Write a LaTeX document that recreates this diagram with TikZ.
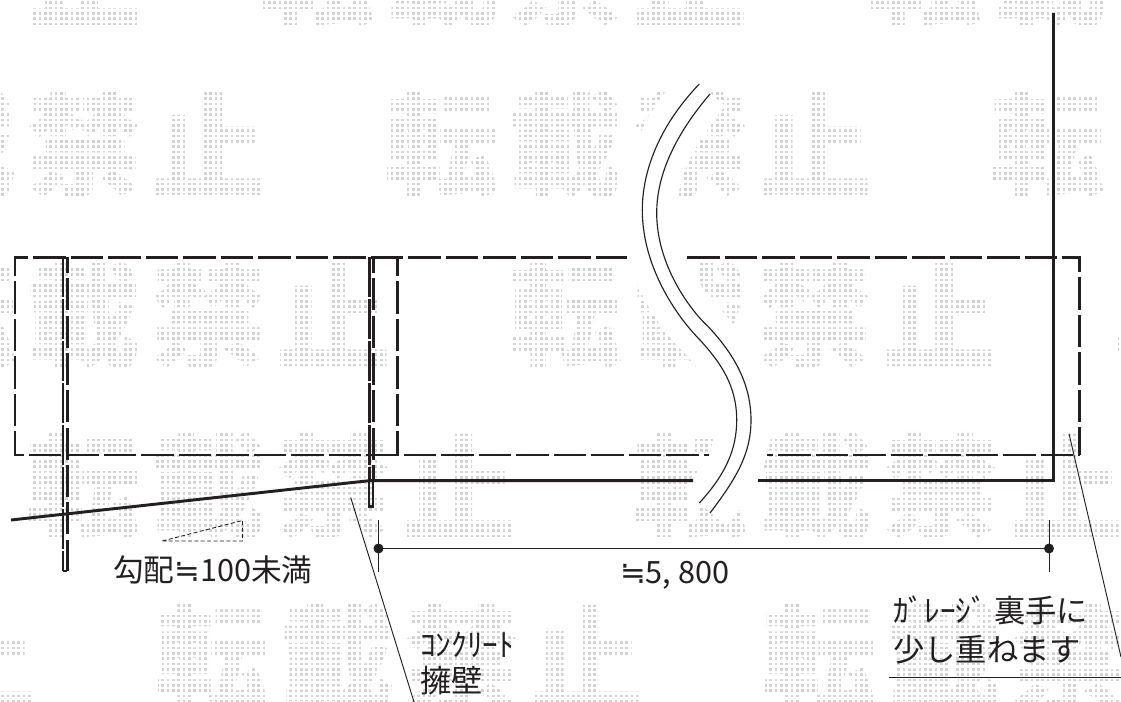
\documentclass[tikz,border=0pt]{standalone}
\usepackage{fontspec}
\setmainfont{Noto Sans CJK JP}
\newfontfamily\jp{Noto Sans CJK JP}
\newfontfamily\sym{DejaVu Sans}
\definecolor{ink}{HTML}{231F20}
\definecolor{wmgray}{HTML}{D2D2D2}
\tikzset{
  wm/.style={inner sep=0pt,outer sep=0pt,text=wmgray,font=\jp\bfseries\fontsize{86pt}{86pt}\selectfont},
  heavy/.style={draw=ink,line width=2.2pt,line join=miter},
  longdash/.style={draw=ink,line width=1.9pt,dash pattern=on 24.375pt off 3.75pt},
  thin line/.style={draw=ink,line width=.7pt},
  wave/.style={draw=ink,line width=.85pt},
  label/.style={inner sep=0pt,outer sep=0pt,anchor=west,text=ink},
  lab30/.style={label,font=\jp\fontsize{23pt}{23pt}\selectfont},
  lab32/.style={label,font=\jp\fontsize{23.5pt}{23.5pt}\selectfont},
}
\begin{document}
\begin{tikzpicture}[x=0.75pt,y=-0.75pt]
\useasboundingbox (0,0) rectangle (1121,702);
\fill[white] (0,0) rectangle (1121,702);
\clip (0,0) rectangle (1121,702);
% watermark
\foreach \gx/\gy/\gc [count=\i] in {
 33/-26/止,266/-26/転,391/-26/載,515/-26/禁,639/-26/止,873/-26/転,998/-26/載,
 -92/144/載,33/144/禁,157/144/止,390/144/転,514/144/載,639/144/禁,763/144/止,996/144/転,
 32/315/載,-92/315/転,157/315/禁,282/315/止,514/315/転,639/315/載,763/315/禁,888/315/止,1121/315/転,
 32/486/転,157/486/載,282/486/禁,407/486/止,639/486/転,764/486/載,889/486/禁,1014/486/止,
 -73/657/止,161/657/転,286/657/載,410/657/禁,534/657/止,768/657/転,893/657/載,1017/657/禁}
  \node[wm] (w\i) at (\gx+52,\gy) {\gc};
\foreach \k in {0,...,211} \draw[white,line width=1.9pt] ({\k*5.3333},0) -- ({\k*5.3333},702);
\foreach \k in {0,...,132} \draw[white,line width=1.9pt] (0,{\k*5.3333}) -- (1121,{\k*5.3333});
% white band round the break
\draw[white,line width=42pt]
  (704,88) .. controls (668,130) and (649,172) .. (649,211)
  .. controls (649,268) and (685,315) .. (704,333)
  .. controls (725,356) and (744,382) .. (744,420)
  .. controls (744,452) and (730,478) .. (705,508);
% dashed rectangle
\draw[longdash] (687,257.3) -- (1079.5,257.3) -- (1079.5,455);
\draw[longdash,dash phase=19.65pt] (767,455) -- (1079.5,455);
\draw[longdash,dash phase=20.6pt] (709,455) -- (15,455) -- (15,257.3) -- (627,257.3);
\draw[longdash,dash phase=10pt] (397.3,257.3) -- (397.3,455);
% double walls
\draw[longdash,dash pattern=on 30pt off 1.5pt] (63,257) -- (63,571);
\draw[longdash,dash pattern=on 24pt off 4pt,dash phase=12pt] (67.3,257) -- (67.3,571);
\draw[heavy,line width=1.5pt] (63,571) -- (67.3,571);
\draw[longdash,dash pattern=on 30pt off 1.5pt] (369.3,257) -- (369.3,480);
\draw[longdash,dash pattern=on 24pt off 4pt,dash phase=12pt] (373.3,257) -- (373.3,480);
\draw[heavy,line width=1.6pt] (369.3,478) -- (369.3,506.5) -- (373.3,506.5) -- (373.3,478);
% ground and garage
\coordinate (slopeL) at (11,520);
\coordinate (slopeR) at (370,480.6);
\coordinate (baseA) at (693,480.6);
\coordinate (baseB) at (758,480.6);
\coordinate (corner) at (1053.3,480.6);
\coordinate (wallTop) at (1053.3,13);
\draw[heavy] (slopeL) -- (slopeR) -- (baseA);
\draw[heavy] (baseB) -- (corner) -- (wallTop);
% break lines
\draw[wave] (699.3,84) .. controls (660,125) and (642.3,170) .. (642.3,210)
  .. controls (642.3,270) and (680,320) .. (700,340)
  .. controls (720,362) and (736.7,385) .. (736.7,420)
  .. controls (736.7,450) and (725,475) .. (699.3,503);
\draw[wave] (710,94) .. controls (675,135) and (656.7,175) .. (656.7,213)
  .. controls (656.7,265) and (690,310) .. (708.3,326.7)
  .. controls (730,350) and (751,380) .. (751,420)
  .. controls (751,455) and (735,480) .. (710,513);
% gradient triangle
\draw[draw=ink,line width=.65pt,dash pattern=on 3pt off 1.8pt]
  (162.3,541) -- (242.5,541) -- (242.5,520.5) -- cycle;
% dimension
\coordinate (dimL) at (378.5,548.5);
\coordinate (dimR) at (1049,548.5);
\draw[thin line] (dimL) -- (dimR);
\draw[thin line] (378.5,520) -- (378.5,571.7);
\draw[thin line] (1049,520) -- (1049,571.7);
\fill[ink] (dimL) circle (5);
\fill[ink] (dimR) circle (5);
% leaders
\coordinate (leadA) at (350.7,497.5);
\coordinate (leadAe) at (414,702);
\coordinate (leadB) at (1069,433.7);
\coordinate (leadBe) at (1121,657);
\coordinate (ulA) at (889,677.5);
\coordinate (ulB) at (1121,677.5);
\draw[thin line] (leadA) -- (leadAe);
\draw[thin line] (leadB) -- (leadBe);
\draw[thin line] (ulA) -- (ulB);
% labels
\node[lab30] (grad) at (113,570) {勾配{\sym ≒}100未満};
\node[lab30] (dim) at (620,575) {{\sym ≒}5, 800};
\node[lab32] (gar1) at (893,610) {ｶﾞﾚｰｼﾞ 裏手に};
\node[lab32] (gar2) at (893,650) {少し重ねます};
\node[lab32] (con1) at (420,645) {ｺﾝｸﾘｰﾄ};
\node[lab32] (con2) at (420,681) {擁壁};
\end{tikzpicture}
\end{document}
